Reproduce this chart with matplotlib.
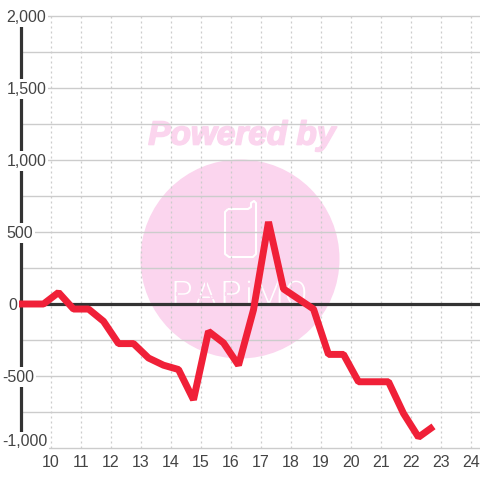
from matplotlib import pyplot as plt
from matplotlib.patches import Circle, PathPatch
from matplotlib.path import Path
import matplotlib.patheffects as pe

plt.rcParams['font.family'] = ['Liberation Sans', 'DejaVu Sans']

hours = [8.75, 9.25, 9.75, 10.25, 10.75, 11.25, 11.75, 12.25, 12.75, 13.25, 13.75, 14.25,
         14.75, 15.25, 15.75, 16.25, 16.75, 17.25, 17.75, 18.25, 18.75, 19.25, 19.75,
         20.25, 20.75, 21.25, 21.75, 22.25, 22.75]
values = [0, 0, 0, 80, -35, -35, -120, -275, -275, -375, -425, -455,
          -665, -190, -270, -425, -40, 570, 105, 35, -35, -350, -350,
          -540, -540, -540, -760, -925, -850]

x_ticks = list(range(10, 25))
y_major = [-1000, -500, 0, 500, 1000, 1500, 2000]
y_minor = [-750, -250, 250, 750, 1250, 1750]
y_labels = ['-1,000', '-500', '0', '500', '1,000', '1,500', '2,000']
y_label_left = [2, 2, 8, 6.5, 6.5, 6.5, 6.5]

PINK = '#fbd5ee'
GRID = '#cccccc'
DARK = '#333333'
TEXT = '#444444'

fig = plt.figure(figsize=(4.8, 4.8), dpi=100, facecolor='white')

# watermark in pixel coordinates, under the chart
bg = fig.add_axes([0, 0, 1, 1], zorder=0)
bg.set_xlim(0, 480)
bg.set_ylim(480, 0)
bg.axis('off')
bg.add_patch(Circle((240, 259), 99.5, fc=PINK, ec='none'))
bg.text(242, 136, 'Powered by', color=PINK, fontsize=24, fontweight='bold', fontstyle='italic',
        ha='center', va='center', family=['Liberation Sans'],
        path_effects=[pe.withStroke(linewidth=1.2, foreground=PINK)])
phone = Path([(228, 209), (248, 209), (251, 207), (251, 203), (254, 201), (256, 203),
              (256, 254), (253, 257), (229, 257), (225, 254), (225, 212), (228, 209)])
bg.add_patch(PathPatch(phone, fc='none', ec='white', lw=1.5, joinstyle='round'))
# pink stroke eats into the white glyphs so the letters come out thin
for letter, lx in zip('PAPiMO', [182, 206, 231, 249, 269, 296]):
    bg.text(lx, 305, letter, color='white', fontsize=25, ha='center', va='baseline',
            family=['Liberation Sans Narrow', 'Roboto'],
            path_effects=[pe.Stroke(linewidth=0.9, foreground=PINK)])

# chart itself
ax = fig.add_axes([21 / 480, 32 / 480, 459 / 480, 432 / 480], zorder=1)
ax.patch.set_alpha(0)
ax.set_xlim(9, 24.3)
ax.set_ylim(-1000, 2000)
for s in ax.spines.values():
    s.set_visible(False)

for t in x_ticks:
    ax.axvline(t, color=GRID, lw=0.9, ls=(0, (1.6, 2.4)), zorder=1)
for v in y_major + y_minor:
    ax.axhline(v, color=GRID, lw=1.0, zorder=1, clip_on=False)

ax.axhline(0, color=DARK, lw=2.3, zorder=3)
ax.axvline(9, color=DARK, lw=2.3, zorder=3, clip_on=False)
ax.plot(hours, values, color='#f02038', lw=5.0, solid_joinstyle='bevel', solid_capstyle='butt',
        zorder=4, clip_on=False)

ax.set_xticks(x_ticks)
ax.set_xticklabels([str(t) for t in x_ticks], fontsize=11.5, color=TEXT)
ax.set_yticks([])
ax.tick_params(axis='x', length=0, pad=5)

# y labels sit on top of the axis with a white box
for v, lab, left in zip(y_major, y_labels, y_label_left):
    dy = 6 if v == -1000 else -1
    ax.annotate(lab, xy=(0, v), xycoords=('figure pixels', 'data'), xytext=(left, dy),
                textcoords='offset pixels', fontsize=11.5, color=TEXT, ha='left', va='center',
                zorder=6, annotation_clip=False,
                bbox=dict(fc='white', ec='none', pad=1.5))

fig.savefig('out.png', dpi=100)
